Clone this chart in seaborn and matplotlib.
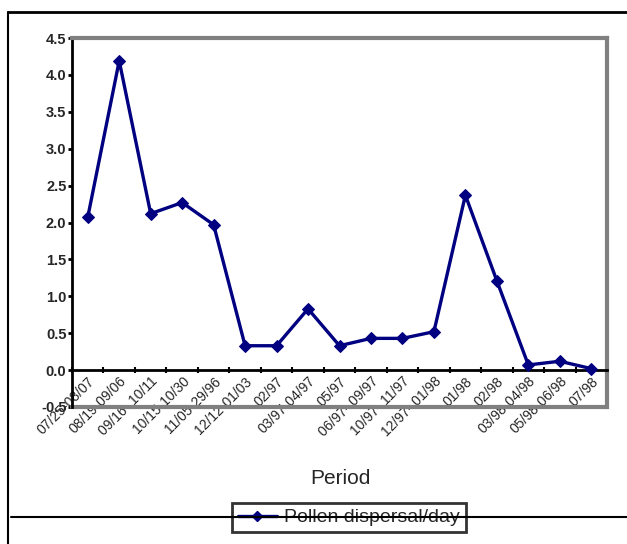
import matplotlib
matplotlib.use("Agg")
import matplotlib.pyplot as plt
from matplotlib.lines import Line2D
import seaborn as sns
import numpy as np
import pandas as pd

periods = ["07/25-08/07", "08/19-09/06", "09/16- 10/11", "10/15-10/30", "11/05-29/96",
           "12/12-01/03", "02/97", "03/97-04/97", "05/97", "06/97- 09/97",
           "10/97- 11/97", "12/97- 01/98", "01/98", "02/98", "03/98-04/98",
           "05/98-06/98", "07/98"]
pollen = [2.07, 4.19, 2.12, 2.27, 1.97, 0.33, 0.33, 0.83, 0.33, 0.43,
          0.43, 0.52, 2.37, 1.21, 0.07, 0.12, 0.02]
yticks = [-0.5, 0.0, 0.5, 1.0, 1.5, 2.0, 2.5, 3.0, 3.5, 4.0, 4.5]
series_name = "Pollen dispersal/day"

sns.set_theme(style="white")
plt.rcParams['font.family'] = ['Liberation Sans', 'DejaVu Sans']

df = pd.DataFrame({"pos": np.arange(len(periods)), "value": pollen, "series": series_name})

W, H = 627, 544
fig = plt.figure(figsize=(W / 100, H / 100), dpi=100)
ax = fig.add_axes([72 / W, 1 - 407 / H, (607 - 72) / W, (407 - 38) / H])

sns.lineplot(data=df, x="pos", y="value", ax=ax, color="#000080", marker="D",
             markersize=6.5, markeredgecolor="#000080", linewidth=2.4, legend=False,
             clip_on=False, zorder=5)

ax.set_xlim(-0.5, len(periods) - 0.5)
ax.set_ylim(-0.5, 4.5)

# spines
ax.spines['bottom'].set_position(('data', 0))
ax.spines['bottom'].set_color('black')
ax.spines['bottom'].set_linewidth(2)
ax.spines['left'].set_color('black')
ax.spines['left'].set_linewidth(2)
for s in ['top', 'right']:
    ax.spines[s].set_color('#808080')
    ax.spines[s].set_linewidth(3)
ax.axhline(-0.5, color='#808080', linewidth=3, clip_on=False, zorder=1)

# y ticks
ax.set_yticks(yticks)
ax.set_yticklabels([f"{v:.1f}" for v in yticks], fontsize=10.5, fontweight='bold')
ax.tick_params(axis='y', direction='out', length=3, width=2, color='black', pad=1, left=True)

# x ticks: boundaries as major (no labels), centers as minor (labels)
ax.set_xticks(np.arange(len(periods) + 1) - 0.5)
ax.set_xticklabels([])
ax.set_xticks(np.arange(len(periods)), minor=True)
ax.set_xticklabels(periods, minor=True, rotation=45, ha='right', va='top',
                   rotation_mode='anchor', fontsize=10)
ax.tick_params(axis='x', which='major', direction='inout', length=5, width=1.5,
               color='black', bottom=True)
ax.tick_params(axis='x', which='minor', length=0, pad=3, bottom=True)

ax.set_xlabel("")
ax.set_ylabel("")
ax.grid(False)

fig.text(340 / W, 1 - 478 / H, "Period", ha='center', va='center', fontsize=15)

# legend
handle = Line2D([], [], color="#000080", marker="D", markersize=5, linewidth=2.4)
leg = fig.legend([handle], [series_name], loc='center',
                 bbox_to_anchor=(349 / W, 1 - 517.5 / H), fontsize=14,
                 frameon=True, fancybox=False, edgecolor='black', handlelength=2.0,
                 borderpad=0.3, handletextpad=0.4)
leg.get_frame().set_linewidth(2)

# chart-area frame lines
fig.add_artist(Line2D([8 / W, 8 / W], [0, 1 - 12 / H], color='black', linewidth=1.5,
                      transform=fig.transFigure, zorder=10))
fig.add_artist(Line2D([8 / W, 1], [1 - 12 / H, 1 - 12 / H], color='black', linewidth=2,
                      transform=fig.transFigure, zorder=10))
fig.add_artist(Line2D([11 / W, 1], [1 - 516.7 / H, 1 - 516.7 / H], color='black',
                      linewidth=1.5, transform=fig.transFigure, zorder=10))

fig.savefig("out.png", dpi=100)
